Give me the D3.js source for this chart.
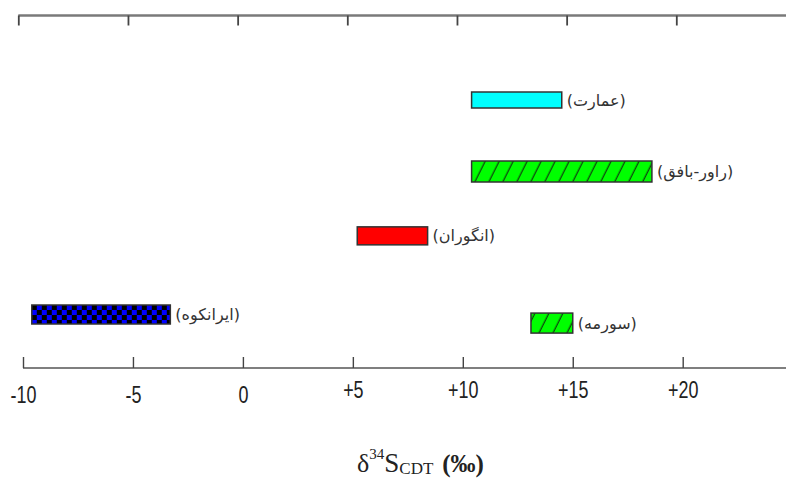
<!DOCTYPE html>
<html>
<head>
<meta charset="utf-8">
<script src="https://cdn.jsdelivr.net/npm/d3@7"></script>
<style>
  body { margin: 0; background: #fff; }
</style>
</head>
<body>
<div id="chart"></div>
<script>
// sulphur isotope ranges per deposit
const sites = ["عمارت", "راور-بافق", "انگوران", "ایرانکوه", "سورمه"];
const minValues = [10.4, 10.4, 5.2, -9.6, 13.1];
const maxValues = [14.5, 18.6, 8.4, -3.3, 15.0];
const rows = [1, 2, 2.9, 4, 4.12];
const tickValues = [-10, -5, 0, 5, 10, 15, 20];
const tickLabels = ["-10", "-5", "0", "+5", "+10", "+15", "+20"];

// styles
const fills = ["#00ffff", "url(#hatch)", "#ff0000", "url(#checker)", "url(#hatch)"];
const barHeights = [16, 21, 18, 19, 20];

const width = 786;
const height = 478;

const svg = d3.select("#chart").append("svg")
    .attr("width", width)
    .attr("height", height)
    .style("font-family", "'Liberation Sans', Arial, sans-serif");

const x = d3.scaleLinear()
    .domain([-10, 20])
    .range([23, 682.7]);

const y = d3.scaleLinear()
    .domain([1, 4])
    .range([100, 314.5]);

// patterns
const defs = svg.append("defs");

const hatch = defs.append("pattern")
    .attr("id", "hatch")
    .attr("patternUnits", "userSpaceOnUse")
    .attr("width", 12.5)
    .attr("height", 12.5)
    .attr("patternTransform", "rotate(26.6)");
hatch.append("rect")
    .attr("width", 12.5)
    .attr("height", 12.5)
    .attr("fill", "#00ff00");
hatch.append("line")
    .attr("x1", 6).attr("x2", 6)
    .attr("y1", 0).attr("y2", 12.5)
    .attr("stroke", "#111")
    .attr("stroke-width", 1);

const checker = defs.append("pattern")
    .attr("id", "checker")
    .attr("patternUnits", "userSpaceOnUse")
    .attr("x", x(-9.6))
    .attr("y", y(4) - 9.5)
    .attr("width", 10)
    .attr("height", 10);
checker.append("rect")
    .attr("width", 10)
    .attr("height", 10)
    .attr("fill", "#0000ff");
checker.append("rect")
    .attr("width", 5).attr("height", 5)
    .attr("fill", "#000");
checker.append("rect")
    .attr("x", 5).attr("y", 5)
    .attr("width", 5).attr("height", 5)
    .attr("fill", "#000");

// top axis (ticks only)
const xTop = d3.scaleLinear()
    .domain([-10, 20])
    .range([18.3, 676.3]);

svg.append("line")
    .attr("x1", xTop(-10)).attr("x2", width)
    .attr("y1", 15.5).attr("y2", 15.5)
    .attr("stroke", "#7a7a7a")
    .attr("stroke-width", 2.5);

const topAxis = svg.append("g")
    .attr("transform", "translate(0,15.5)")
    .call(d3.axisTop(xTop).tickValues(tickValues).tickSize(-10).tickFormat(""));
topAxis.select(".domain").remove();
topAxis.selectAll(".tick line")
    .attr("stroke", "#444")
    .attr("stroke-width", 1.8);

// bottom axis
svg.append("line")
    .attr("x1", x(-10)).attr("x2", width)
    .attr("y1", 368).attr("y2", 368)
    .attr("stroke", "#555")
    .attr("stroke-width", 1.6);

const bottomAxis = svg.append("g")
    .attr("transform", "translate(0,368)")
    .call(d3.axisBottom(x).tickValues(tickValues).tickSize(-11).tickPadding(19)
        .tickFormat((d, i) => tickLabels[i]));
bottomAxis.select(".domain").remove();
bottomAxis.selectAll(".tick line")
    .attr("stroke", "#444")
    .attr("stroke-width", 1.4);
bottomAxis.selectAll(".tick text")
    .attr("fill", "#222")
    .attr("font-size", "23px")
    .attr("font-family", "'Liberation Sans', Arial, sans-serif")
    .attr("transform", d => d > 0 ? "translate(0,-5) scale(0.78,1)" : "scale(0.78,1)");

// bars
sites.forEach((site, i) => {
    const x0 = x(minValues[i]);
    const x1 = x(maxValues[i]);
    const h = barHeights[i];
    svg.append("rect")
        .attr("x", x0)
        .attr("y", y(rows[i]) - h / 2)
        .attr("width", x1 - x0)
        .attr("height", h)
        .attr("fill", fills[i])
        .attr("stroke", "#333")
        .attr("stroke-width", 1.5);

    svg.append("text")
        .attr("x", x1 + 5)
        .attr("y", y(rows[i]))
        .attr("dy", "0.35em")
        .attr("fill", "#333")
        .attr("font-family", "'DejaVu Sans', sans-serif")
        .attr("font-size", "16px")
        .text("(" + site + ")");
});

// axis title
const title = svg.append("text")
    .attr("x", 357)
    .attr("y", 472)
    .attr("fill", "#222")
    .attr("font-family", "'Liberation Serif', 'Times New Roman', serif");
title.append("tspan").attr("font-size", "26px").text("δ");
title.append("tspan").attr("font-size", "15px").attr("dy", -13).text("34");
title.append("tspan").attr("font-size", "27px").attr("dy", 13).text("S");
title.append("tspan").attr("font-size", "17px").attr("dy", 2).text("CDT");
title.append("tspan").attr("font-size", "25px").attr("font-weight", "bold")
    .attr("dx", 9).attr("dy", -2).text("(‰)");
</script>
</body>
</html>
